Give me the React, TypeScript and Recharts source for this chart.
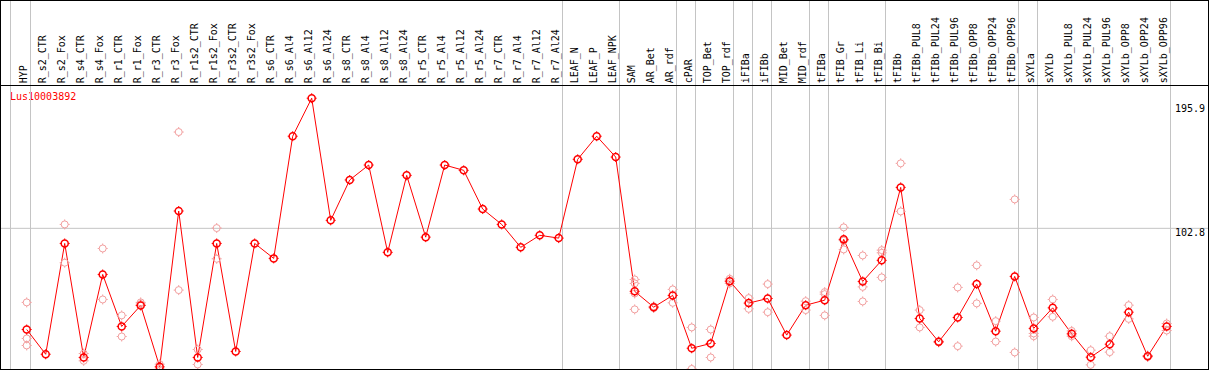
import React from 'react';
import { LineChart, Line, XAxis, YAxis, ReferenceLine, Customized } from 'recharts';

const categories = [
  'HYP', 'R_s2_CTR', 'R_s2_Fox', 'R_s4_CTR', 'R_s4_Fox', 'R_r1_CTR', 'R_r1_Fox', 'R_r3_CTR', 'R_r3_Fox',
  'R_r1s2_CTR', 'R_r1s2_Fox', 'R_r3s2_CTR', 'R_r3s2_Fox', 'R_s6_CTR', 'R_s6_Al4', 'R_s6_Al12', 'R_s6_Al24',
  'R_s8_CTR', 'R_s8_Al4', 'R_s8_Al12', 'R_s8_Al24', 'R_r5_CTR', 'R_r5_Al4', 'R_r5_Al12', 'R_r5_Al24',
  'R_r7_CTR', 'R_r7_Al4', 'R_r7_Al12', 'R_r7_Al24', 'LEAF_N', 'LEAF_P', 'LEAF_NPK', 'SAM', 'AR_Bet', 'AR_rdf',
  'cPAR', 'TOP_Bet', 'TOP_rdf', 'iFIBa', 'iFIBb', 'MID_Bet', 'MID_rdf', 'tFIBa', 'tFIB_Gr', 'tFIB_Li', 'tFIB_Bi',
  'tFIBb', 'tFIBb_PUL8', 'tFIBb_PUL24', 'tFIBb_PUL96', 'tFIBb_OPP8', 'tFIBb_OPP24', 'tFIBb_OPP96',
  'sXYLa', 'sXYLb', 'sXYLb_PUL8', 'sXYLb_PUL24', 'sXYLb_PUL96', 'sXYLb_OPP8', 'sXYLb_OPP24', 'sXYLb_OPP96',
];

// mean expression per sample
const meanValues = [
  30.4, 12.7, 92.0, 10.4, 69.8, 32.6, 47.6, 3.7, 115.2,
  10.4, 92.0, 14.7, 92.0, 81.3, 168.7, 195.9, 108.5,
  137.4, 148.1, 85.6, 140.7, 96.5, 148.1, 144.3, 116.6,
  105.6, 89.2, 97.8, 95.8, 152.2, 168.7, 153.8, 57.7, 46.4, 54.8,
  17.0, 20.4, 65.0, 49.3, 52.6, 26.4, 47.8, 51.4, 94.9, 64.8, 79.9,
  132.1, 38.3, 21.6, 39.0, 62.9, 29.2, 68.4,
  31.2, 45.9, 27.3, 10.6, 19.9, 42.8, 11.3, 32.6,
];

// replicates (null where none is visible)
const rep1 = [
  49.8, null, 105.6, 13.2, 88.4, 40.5, 49.8, 5.6, 171.7,
  16.1, 103.0, null, null, null, null, null, null,
  null, null, null, null, null, null, null, null,
  null, null, null, null, null, null, null, 66.2, 47.0, 59.1,
  31.9, 30.4, 66.7, 52.9, 62.9, null, 50.7, 57.2, 103.5, 83.4, 87.2,
  149.3, 44.3, 22.0, 60.5, 76.3, 36.4, 123.5,
  39.0, 51.9, 29.4, 15.6, 25.6, 47.8, 11.8, 34.7,
];
const rep2 = [
  24.0, null, 78.2, 8.0, 51.9, 25.4, 48.6, 2.0, 58.6,
  5.4, 81.0, null, null, null, null, null, null,
  null, null, null, null, null, null, null, null,
  null, null, null, null, null, null, null, 63.4, 45.8, 49.5,
  2.2, 10.4, 63.4, 45.2, 42.8, null, 44.3, 55.7, 94.0, 60.9, 85.3,
  114.9, 31.9, 21.2, 18.5, 49.1, 21.8, 14.0,
  27.6, 39.5, 25.6, 5.1, 14.2, 38.0, 10.8, 29.7,
];
const rep3 = [
  19.0, null, null, null, null, null, null, null, null,
  null, null, null, null, null, null, null, null,
  null, null, null, null, null, null, null, null,
  null, null, null, null, null, null, null, 56.2, null, null,
  null, null, null, null, null, null, null, 40.5, 87.7, 50.5, 67.7,
  null, null, null, null, null, null, null,
  25.6, null, null, null, null, null, null, null,
];
const rep4 = [
  null, null, null, null, null, null, null, null, null,
  null, null, null, null, null, null, null, null,
  null, null, null, null, null, null, null, null,
  null, null, null, null, null, null, null, 44.8, null, null,
  null, null, null, null, null, null, null, null, null, null, null,
  null, null, null, null, null, null, null,
  null, null, null, null, null, null, null, null,
];

const yTicks = [0, 102.8, 195.9];
const gridValue = 102.8;
const geneName = 'Lus10003892';

// last sample of each group, a grey divider follows it
const groupEnds = [
  'HYP', 'R_r7_Al24', 'LEAF_NPK', 'AR_rdf', 'cPAR', 'TOP_rdf', 'iFIBa', 'iFIBb', 'MID_rdf',
  'tFIBa', 'tFIB_Bi', 'tFIBb_OPP96', 'sXYLa', 'sXYLb_OPP96',
];

const data = categories.map((name, i) => ({
  name,
  mean: meanValues[i],
  r1: rep1[i],
  r2: rep2[i],
  r3: rep3[i],
  r4: rep4[i],
}));

const FONT = '"DejaVu Sans Mono", monospace';
const RED = '#ff0000';
const PINK = '#f2a0a0';
const GREY = '#c4c4c4';

const makeMarker = (color: string, width: number) => (props: any) => {
  const { cx, cy, key } = props;
  if (cx == null || cy == null || props.value == null) return <g key={key} />;
  return (
    <g key={key}>
      <circle cx={cx} cy={cy} r={3.5} fill="none" stroke={color} strokeWidth={width} />
      <line x1={cx} y1={cy - 5} x2={cx} y2={cy - 3.5} stroke={color} strokeWidth={1} />
      <line x1={cx} y1={cy + 3.5} x2={cx} y2={cy + 5} stroke={color} strokeWidth={1} />
      <line x1={cx - 5} y1={cy} x2={cx - 3.5} y2={cy} stroke={color} strokeWidth={1} />
      <line x1={cx + 3.5} y1={cy} x2={cx + 5} y2={cy} stroke={color} strokeWidth={1} />
    </g>
  );
};

const SampleTick = (props: any) => {
  const { x, payload } = props;
  return (
    <text
      x={x}
      y={82.3}
      transform={`rotate(-90, ${x}, 82.3)`}
      textAnchor="start"
      fontFamily={FONT}
      fontSize={10}
      fill="#000"
    >
      {payload.value}
    </text>
  );
};

const ValueTick = (props: any) => {
  const { y, payload } = props;
  const base = Math.min(Math.max(y + 8, 111.3), 364);
  return (
    <text x={1174} y={base} textAnchor="start" fontFamily={FONT} fontSize={10} fill="#000">
      {payload.value}
    </text>
  );
};

const Divider = (offset: number) => (props: any) => {
  const px = Math.floor(props.x1 + offset) + 0.5;
  return <line x1={px} y1={-1} x2={px} y2={369} stroke={GREY} strokeWidth={1} />;
};

const GeneLabel = () => (
  <text x={9} y={99} fontFamily={FONT} fontSize={10} fill={RED}>
    {geneName}
  </text>
);

const App = () => {
  return (
    <div
      style={{
        position: 'absolute',
        left: 0,
        top: 0,
        width: 1209,
        height: 370,
        boxSizing: 'border-box',
        border: '1px solid #000',
        overflow: 'hidden',
        background: '#fff',
      }}
    >
      <LineChart width={1207} height={371} data={data} margin={{ top: 0, right: 0, bottom: 0, left: 0 }}>
        <XAxis
          dataKey="name"
          orientation="top"
          height={84.5}
          interval={0}
          padding={{ left: 25.7, right: 41.3 }}
          axisLine={{ stroke: '#000', strokeWidth: 1 }}
          tickLine={false}
          tick={<SampleTick />}
        />
        <YAxis
          orientation="right"
          mirror
          domain={[0, 205]}
          ticks={yTicks}
          allowDataOverflow
          axisLine={false}
          tickLine={false}
          tick={<ValueTick />}
        />
        <ReferenceLine y={gridValue} stroke={GREY} strokeWidth={1} />
        <ReferenceLine x="HYP" shape={Divider(-16.7)} />
        {groupEnds.map(c => (
          <ReferenceLine key={c} x={c} shape={Divider(3.6)} />
        ))}
        {['r1', 'r2', 'r3', 'r4'].map(k => (
          <Line
            key={k}
            dataKey={k}
            stroke="none"
            dot={makeMarker(PINK, 1)}
            activeDot={false}
            isAnimationActive={false}
          />
        ))}
        <Line
          dataKey="mean"
          stroke={RED}
          strokeWidth={1}
          dot={makeMarker(RED, 1.5)}
          activeDot={false}
          isAnimationActive={false}
        />
        <Customized component={GeneLabel} />
      </LineChart>
    </div>
  );
};

export default App;
